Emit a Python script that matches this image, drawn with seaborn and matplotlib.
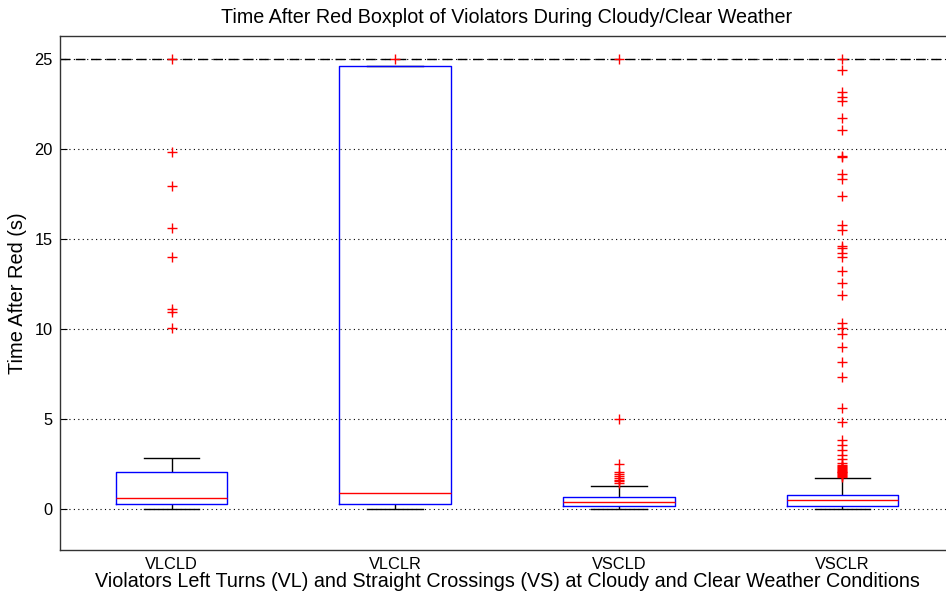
import pandas as pd
import matplotlib
matplotlib.use("Agg")
import matplotlib.pyplot as plt
import seaborn as sns

groups = ["VLCLD", "VLCLR", "VSCLD", "VSCLR"]

# box summaries: lower whisker, Q1, median, Q3, upper whisker
vlcld_box = [0.0, 0.29, 0.61, 2.08, 2.86]
vlclr_box = [0.0, 0.29, 0.89, 24.59, 24.59]
vscld_box = [0.0, 0.18, 0.42, 0.68, 1.30]
vsclr_box = [0.0, 0.18, 0.50, 0.80, 1.72]

# outliers (red crosses)
vlcld_out = [25.0, 19.82, 17.94, 15.63, 14.0, 11.09, 10.95, 10.07]
vlclr_out = [25.0]
vscld_out = [25.0, 5.03, 2.53, 2.05, 1.95, 1.85, 1.75, 1.65, 1.55, 1.45]
vsclr_out = [25.0, 24.39, 23.15, 22.87, 22.65, 21.73, 21.06, 19.6, 19.55,
             18.59, 18.31, 17.38, 15.76, 15.52, 14.6, 14.47, 14.22, 14.0,
             13.23, 12.56, 11.88, 10.34, 10.07, 9.72, 8.98, 8.18, 7.32,
             5.6, 4.86, 3.84, 3.59, 3.31, 3.01, 2.77, 2.55, 2.45, 2.4,
             2.35, 2.3, 2.25, 2.2, 2.15, 2.1, 2.05, 2.0, 1.95, 1.9, 1.85, 1.8]

y_ticks = [0, 5, 10, 15, 20, 25]


def long_frame(parts):
    return pd.concat(
        [pd.DataFrame({"group": g, "value": v}) for g, v in zip(groups, parts)],
        ignore_index=True,
    )


def main():
    plt.rcParams["font.family"] = ["Liberation Sans", "DejaVu Sans"]

    box_df = long_frame([vlcld_box, vlclr_box, vscld_box, vsclr_box])
    out_df = long_frame([vlcld_out, vlclr_out, vscld_out, vsclr_out])

    fig = plt.figure(figsize=(9.46, 5.99), dpi=100)
    ax = fig.add_axes([0.0631, 0.0818, 0.9457, 0.858])

    # whiskers span the whole summary, outliers are drawn separately
    # box drawn above the caps so a cap sitting on Q3 stays hidden (as in MATLAB)
    sns.boxplot(data=box_df, x="group", y="value", order=groups, whis=(0, 100),
                width=0.5, fill=False, showfliers=False, linewidth=1,
                boxprops=dict(color="blue", zorder=2.5),
                medianprops=dict(color="red", zorder=2.6),
                whiskerprops=dict(color="black"), capprops=dict(color="black"),
                ax=ax)
    sns.stripplot(data=out_df, x="group", y="value", order=groups, jitter=False,
                  marker="+", color="red", size=7.5, linewidth=1, ax=ax)

    ax.axhline(25, color="black", linewidth=1, linestyle=(0, (7, 4)), zorder=1.5)
    ax.yaxis.grid(True, color="black", linewidth=0.8, linestyle=(0, (1, 3)))
    ax.set_axisbelow(True)

    ax.set_xlim(-0.5, 3.5)
    ax.set_ylim(-2.25, 26.25)
    ax.set_yticks(y_ticks)
    ax.tick_params(axis="y", direction="in", length=5, width=0.8, pad=5,
                   labelsize=11.8)
    ax.tick_params(axis="x", length=0, pad=5, labelsize=11.8)
    for sp in ax.spines.values():
        sp.set_color("#333333")
        sp.set_linewidth(1)

    ax.set_title("Time After Red Boxplot of Violators During Cloudy/Clear Weather",
                 fontsize=14.2, pad=9.4)
    ax.set_xlabel("Violators Left Turns (VL) and Straight Crossings (VS) at Cloudy "
                  "and Clear Weather Conditions", fontsize=14.2, labelpad=0)
    ax.set_ylabel("Time After Red (s)", fontsize=14.4, labelpad=5.5)

    fig.savefig("out.png", dpi=100)
    plt.close(fig)


if __name__ == "__main__":
    main()
